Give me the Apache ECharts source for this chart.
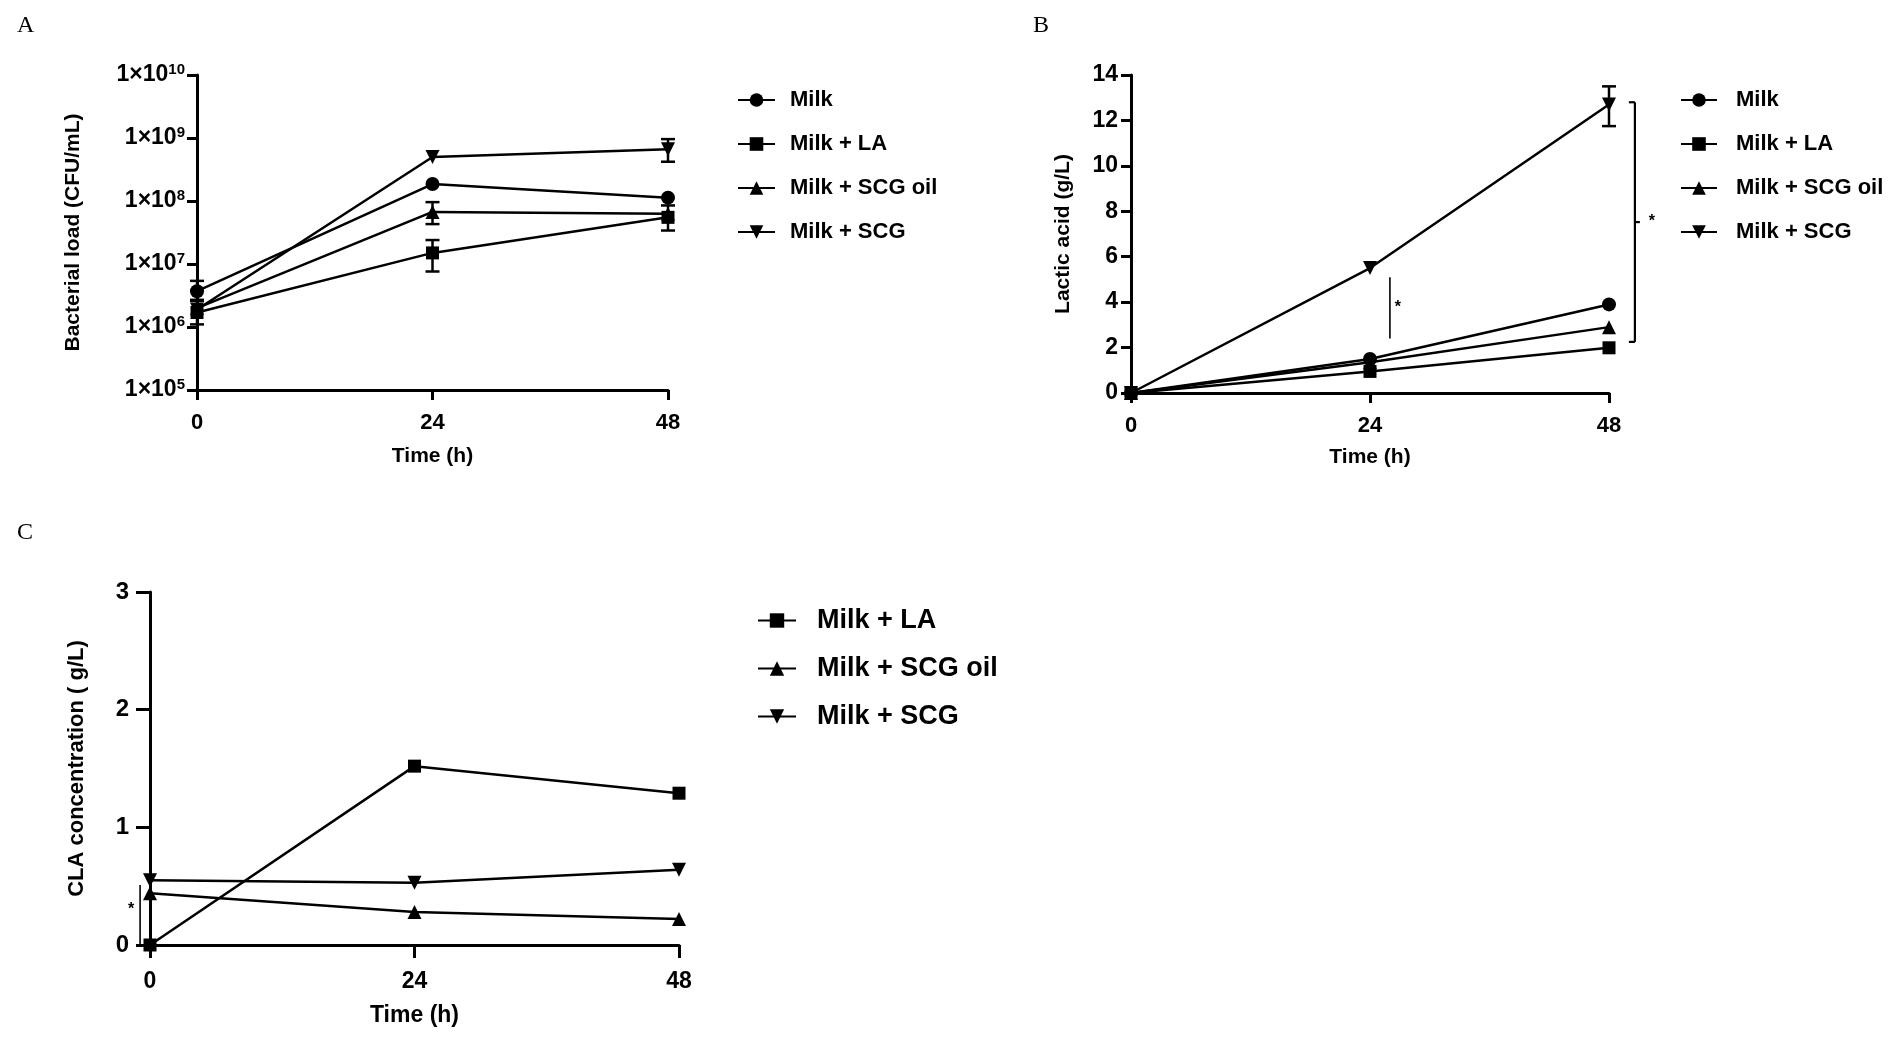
<!DOCTYPE html>
<html>
<head>
<meta charset="utf-8">
<script src="https://cdn.jsdelivr.net/npm/echarts@6/dist/echarts.min.js"></script>
<style>
html,body{margin:0;padding:0;background:#fff;}
#chart{width:1902px;height:1037px;}
</style>
</head>
<body>
<div id="chart"></div>
<script>
// ---------- data ----------
const timeLabels = [0, 24, 48];
const seriesNamesAB = ['Milk', 'Milk + LA', 'Milk + SCG oil', 'Milk + SCG'];
const seriesNamesC = ['Milk + LA', 'Milk + SCG oil', 'Milk + SCG'];

// Panel A: bacterial load (CFU/mL)
const aMilk   = [3.7e6, 1.86e8, 1.13e8];
const aLA     = [1.7e6, 1.5e7, 5.5e7];
const aOil    = [2.0e6, 6.7e7, 6.3e7];
const aSCG    = [1.9e6, 5.0e8, 6.6e8];
// error bars [time, low, high]
const aMilkErr = [[0, 2.6e6, 5.4e6]];
const aLAErr   = [[0, 1.1e6, 2.7e6], [24, 7.6e6, 2.4e7], [48, 3.4e7, 8.5e7]];
const aOilErr  = [[24, 4.3e7, 9.6e7]];
const aSCGErr  = [[48, 4.2e8, 9.6e8]];

// Panel B: lactic acid (g/L)
const bMilk = [0, 1.5, 3.9];
const bLA   = [0, 0.95, 1.99];
const bOil  = [0, 1.35, 2.9];
const bSCG  = [0, 5.5, 12.7];
const bSCGErr = [[48, 11.75, 13.5]];
// significance marks [x, yLow, yHigh]
const bSigLine = [26, 2.4, 5.1];
const bSigBracket = [50.6, 2.25, 12.8];

// Panel C: CLA concentration (g/L)
const cLA  = [0, 1.52, 1.29];
const cOil = [0.44, 0.28, 0.22];
const cSCG = [0.55, 0.53, 0.64];
const cSigLine = [-0.9, 0, 0.51];

// ---------- helpers ----------
const FONT = '"Liberation Sans", Arial, sans-serif';
const SERIF = '"Liberation Serif", "Times New Roman", serif';
const downTri = 'path://M0,0 L10,0 L5,9 Z';
const symbols = {
  'Milk': 'circle',
  'Milk + LA': 'rect',
  'Milk + SCG oil': 'triangle',
  'Milk + SCG': downTri
};
const symSizes = {
  'Milk': 14, 'Milk + LA': 13, 'Milk + SCG oil': 14, 'Milk + SCG': 14
};

function pairs(vals) { return vals.map((v, i) => [timeLabels[i], v]); }

function lineSeries(name, vals, idx) {
  return {
    type: 'line', name: name, xAxisIndex: idx, yAxisIndex: idx,
    data: pairs(vals),
    symbol: symbols[name], symbolSize: symSizes[name],
    showAllSymbol: true,
    lineStyle: { color: '#000', width: 2.5 },
    itemStyle: { color: '#000' },
    z: 3
  };
}

function errSeries(data, idx, cap) {
  return {
    type: 'custom', xAxisIndex: idx, yAxisIndex: idx, silent: true,
    data: data, z: 4, clip: false,
    renderItem: function (params, api) {
      const x = api.value(0);
      const lo = api.coord([x, api.value(1)]);
      const hi = api.coord([x, api.value(2)]);
      const s = { stroke: '#000', lineWidth: 2.5 };
      return { type: 'group', children: [
        { type: 'line', shape: { x1: lo[0], y1: lo[1], x2: hi[0], y2: hi[1] }, style: s },
        { type: 'line', shape: { x1: lo[0] - cap, y1: lo[1], x2: lo[0] + cap, y2: lo[1] }, style: s },
        { type: 'line', shape: { x1: hi[0] - cap, y1: hi[1], x2: hi[0] + cap, y2: hi[1] }, style: s }
      ]};
    }
  };
}

function sigSeries(data, idx, kind, starDx, starDy) {
  return {
    type: 'custom', xAxisIndex: idx, yAxisIndex: idx, silent: true, clip: false,
    data: [data], z: 5,
    renderItem: function (params, api) {
      const x = api.value(0);
      const lo = api.coord([x, api.value(1)]);
      const hi = api.coord([x, api.value(2)]);
      const s = { stroke: '#000', lineWidth: kind === 'bracket' ? 2.2 : 1.6 };
      const ch = [
        { type: 'line', shape: { x1: lo[0], y1: lo[1], x2: hi[0], y2: hi[1] }, style: s }
      ];
      const midY = (lo[1] + hi[1]) / 2;
      if (kind === 'bracket') {
        ch.push({ type: 'line', shape: { x1: lo[0] - 6, y1: lo[1], x2: lo[0], y2: lo[1] }, style: s });
        ch.push({ type: 'line', shape: { x1: hi[0] - 6, y1: hi[1], x2: hi[0], y2: hi[1] }, style: s });
        ch.push({ type: 'line', shape: { x1: lo[0], y1: midY, x2: lo[0] + 5, y2: midY }, style: s });
      }
      ch.push({ type: 'text', x: lo[0] + starDx, y: midY + starDy,
        style: { text: '*', font: 'bold 16px ' + FONT, fill: '#000', align: 'center', verticalAlign: 'middle' } });
      return { type: 'group', children: ch };
    }
  };
}

function xAxisCfg(idx, fs, nfs, tickLen, margin, nameGap) {
  return {
    gridIndex: idx, type: 'value', min: 0, max: 48, interval: 24,
    name: 'Time (h)', nameLocation: 'middle', nameGap: nameGap,
    nameTextStyle: { fontFamily: FONT, fontWeight: 'bold', fontSize: nfs, color: '#000' },
    axisLine: { onZero: false, lineStyle: { color: '#000', width: 3 } },
    axisTick: { length: tickLen, lineStyle: { color: '#000', width: 3 } },
    axisLabel: { fontFamily: FONT, fontWeight: 'bold', fontSize: fs, color: '#000', margin: margin },
    splitLine: { show: false }
  };
}

const option = {
  backgroundColor: '#fff',
  animation: false,
  title: [
    { text: 'A', left: 12, top: 9, textStyle: { fontFamily: SERIF, fontWeight: 'normal', fontSize: 24, color: '#000' } },
    { text: 'B', left: 1028, top: 9, textStyle: { fontFamily: SERIF, fontWeight: 'normal', fontSize: 24, color: '#000' } },
    { text: 'C', left: 12, top: 516, textStyle: { fontFamily: SERIF, fontWeight: 'normal', fontSize: 24, color: '#000' } }
  ],
  legend: [
    { data: seriesNamesAB, orient: 'vertical', left: 732, top: 84, itemWidth: 37, itemHeight: 17, itemGap: 22,
      textStyle: { fontFamily: FONT, fontWeight: 'bold', fontSize: 22, lineHeight: 21, color: '#000', padding: [0, 0, 0, 10] } },
    { data: seriesNamesAB, orient: 'vertical', left: 1675, top: 84, itemWidth: 36, itemHeight: 17, itemGap: 22,
      textStyle: { fontFamily: FONT, fontWeight: 'bold', fontSize: 22, lineHeight: 21, color: '#000', padding: [0, 0, 0, 14] } },
    { data: seriesNamesC, orient: 'vertical', left: 752, top: 602, itemWidth: 38, itemHeight: 18, itemGap: 21,
      textStyle: { fontFamily: FONT, fontWeight: 'bold', fontSize: 27, lineHeight: 27, color: '#000', padding: [0, 0, 0, 16] } }
  ],
  grid: [
    { left: 197, top: 75, width: 471, height: 315 },
    { left: 1131, top: 75, width: 478, height: 318 },
    { left: 150, top: 592, width: 529, height: 353 }
  ],
  xAxis: [
    xAxisCfg(0, 22, 21, 10, 22, 56),
    xAxisCfg(1, 22, 21, 10, 22, 54),
    xAxisCfg(2, 23, 23, 13, 25, 59)
  ],
  yAxis: [
    {
      gridIndex: 0, type: 'log', logBase: 10, min: 1e5, max: 1e10,
      name: 'Bacterial load (CFU/mL)', nameLocation: 'middle', nameGap: 113,
      nameTextStyle: { fontFamily: FONT, fontWeight: 'bold', fontSize: 21, color: '#000' },
      axisLine: { lineStyle: { color: '#000', width: 3 } },
      axisTick: { length: 10, lineStyle: { color: '#000', width: 3 } },
      axisLabel: {
        margin: 12,
        formatter: function (v) {
          const e = Math.round(Math.log10(v));
          return '{b|1×10}{s|' + e + '}';
        },
        rich: {
          b: { fontFamily: FONT, fontWeight: 'bold', fontSize: 23, lineHeight: 26, color: '#000' },
          s: { fontFamily: FONT, fontWeight: 'bold', fontSize: 15, lineHeight: 15, verticalAlign: 'top', color: '#000' }
        }
      },
      splitLine: { show: false }
    },
    {
      gridIndex: 1, type: 'value', min: 0, max: 14, interval: 2,
      name: 'Lactic acid (g/L)', nameLocation: 'middle', nameGap: 57,
      nameTextStyle: { fontFamily: FONT, fontWeight: 'bold', fontSize: 21, color: '#000' },
      axisLine: { onZero: false, lineStyle: { color: '#000', width: 3 } },
      axisTick: { length: 10, lineStyle: { color: '#000', width: 3 } },
      axisLabel: { fontFamily: FONT, fontWeight: 'bold', fontSize: 23, color: '#000', margin: 13 },
      splitLine: { show: false }
    },
    {
      gridIndex: 2, type: 'value', min: 0, max: 3, interval: 1,
      name: 'CLA concentration ( g/L)', nameLocation: 'middle', nameGap: 62,
      nameTextStyle: { fontFamily: FONT, fontWeight: 'bold', fontSize: 22, color: '#000' },
      axisLine: { onZero: false, lineStyle: { color: '#000', width: 3 } },
      axisTick: { length: 14, lineStyle: { color: '#000', width: 3 } },
      axisLabel: { fontFamily: FONT, fontWeight: 'bold', fontSize: 24, color: '#000', margin: 21 },
      splitLine: { show: false }
    }
  ],
  series: [
    lineSeries('Milk', aMilk, 0),
    lineSeries('Milk + LA', aLA, 0),
    lineSeries('Milk + SCG oil', aOil, 0),
    lineSeries('Milk + SCG', aSCG, 0),
    errSeries(aMilkErr, 0, 7),
    errSeries(aLAErr, 0, 7),
    errSeries(aOilErr, 0, 7),
    errSeries(aSCGErr, 0, 7),

    lineSeries('Milk', bMilk, 1),
    lineSeries('Milk + LA', bLA, 1),
    lineSeries('Milk + SCG oil', bOil, 1),
    lineSeries('Milk + SCG', bSCG, 1),
    errSeries(bSCGErr, 1, 7),
    sigSeries(bSigLine, 1, 'line', 8, 0),
    sigSeries(bSigBracket, 1, 'bracket', 17, 0),

    lineSeries('Milk + LA', cLA, 2),
    lineSeries('Milk + SCG oil', cOil, 2),
    lineSeries('Milk + SCG', cSCG, 2),
    sigSeries(cSigLine, 2, 'line', -9, -5)
  ]
};

const chart = echarts.init(document.getElementById('chart'), null, { renderer: 'canvas' });
chart.setOption(option);
</script>
</body>
</html>
